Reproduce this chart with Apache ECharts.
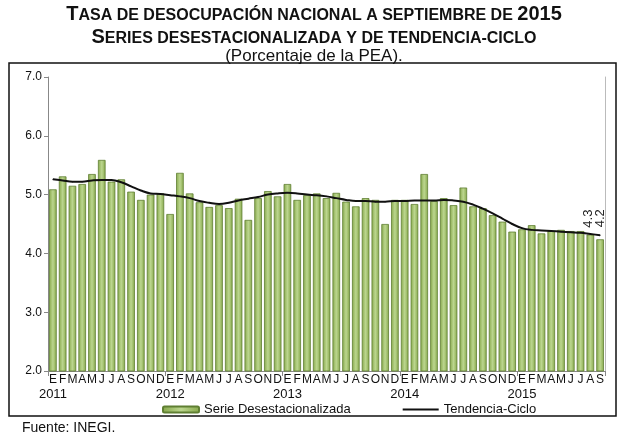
<!DOCTYPE html>
<html><head><meta charset="utf-8">
<script src="https://cdn.jsdelivr.net/npm/echarts@6/dist/echarts.min.js"></script>
<style>html,body{margin:0;padding:0;background:#fff}#c{width:628px;height:443px}</style>
</head><body><div id="c"></div>
<script>
const months = ['E','F','M','A','M','J','J','A','S','O','N','D'];
const years = ['2011','2012','2013','2014','2015'];
const serieDesest = [
  5.09, 5.31, 5.15, 5.18, 5.35, 5.59, 5.22, 5.26, 5.05, 4.91, 5.00, 5.02,
  4.67, 5.37, 5.02, 4.87, 4.79, 4.82, 4.77, 4.93, 4.57, 4.94, 5.06, 4.97,
  5.18, 4.91, 4.99, 5.02, 4.94, 5.03, 4.88, 4.80, 4.94, 4.91, 4.50, 4.91,
  4.91, 4.84, 5.35, 4.89, 4.94, 4.82, 5.12, 4.80, 4.77, 4.65, 4.54, 4.37,
  4.41, 4.48, 4.34, 4.38, 4.40, 4.38, 4.38, 4.32, 4.24
];
const tendencia = [
  5.26, 5.24, 5.22, 5.22, 5.24, 5.25, 5.25, 5.21, 5.14, 5.07, 5.02, 5.01,
  4.99, 4.97, 4.94, 4.89, 4.86, 4.84, 4.86, 4.90, 4.93, 4.96, 5.00, 5.02,
  5.03, 5.02, 5.00, 4.99, 4.97, 4.94, 4.91, 4.89, 4.89, 4.88, 4.88, 4.89,
  4.89, 4.90, 4.90, 4.90, 4.91, 4.90, 4.88, 4.83, 4.76, 4.68, 4.59, 4.50,
  4.43, 4.40, 4.39, 4.38, 4.37, 4.36, 4.35, 4.33, 4.31
];
const yTicks = [2, 3, 4, 5, 6, 7];

const cats = [];
const yearLabels = [];
for (let i = 0; i < serieDesest.length; i++) {
  cats.push(months[i % 12]);
  yearLabels.push(i % 12 === 0 ? years[i / 12] : '');
}
const last = serieDesest.length - 1;
const FONT = 'Liberation Sans, Arial, sans-serif';

const barData = serieDesest.map((v, i) => i === last ? {
  value: v,
  label: { show: true, position: 'top', rotate: 90, align: 'left', verticalAlign: 'middle',
    distance: 12, formatter: p => p.value.toFixed(1), fontSize: 13, color: '#222', fontFamily: FONT }
} : v);
const lineData = tendencia.map((v, i) => i === last ? {
  value: v,
  label: { show: true, position: 'top', rotate: 90, align: 'left', verticalAlign: 'middle',
    distance: 7, offset: [0, -12], formatter: p => p.value.toFixed(1), fontSize: 13, color: '#222', fontFamily: FONT }
} : v);

const richTitle = {
  b: { fontSize: 20, fontWeight: 'bold', color: '#111', fontFamily: FONT, verticalAlign: 'bottom' },
  s: { fontSize: 16, fontWeight: 'bold', color: '#111', fontFamily: FONT, verticalAlign: 'bottom' }
};

const chart = echarts.init(document.getElementById('c'), null, { renderer: 'canvas' });
chart.setOption({
  backgroundColor: '#fff',
  animation: false,
  textStyle: { fontFamily: FONT },
  title: [
    { left: 'center', top: -1, text: '{b|T}{s|ASA DE DESOCUPACIÓN NACIONAL A SEPTIEMBRE DE }{b|2015}',
      textStyle: { rich: richTitle } },
    { left: 'center', top: 22, text: '{b|S}{s|ERIES DESESTACIONALIZADA Y DE TENDENCIA-CICLO}',
      textStyle: { rich: richTitle } },
    { left: 'center', top: 43, text: '(Porcentaje de la PEA).',
      textStyle: { fontSize: 17, fontWeight: 'normal', color: '#111', fontFamily: FONT } }
  ],
  grid: { left: 48, right: 23, top: 77, bottom: 72, containLabel: false },
  legend: {
    left: 157, top: 398, itemWidth: 36, itemHeight: 6, itemGap: 52,
    textStyle: { fontSize: 13, color: '#111', fontFamily: FONT },
    data: [
      { name: 'Serie Desestacionalizada' },
      { name: 'Tendencia-Ciclo', icon: 'path://M0 0H36V2H0Z', itemStyle: { color: '#111' } }
    ]
  },
  xAxis: [
    { type: 'category', data: cats, position: 'bottom',
      axisLine: { show: true, lineStyle: { color: '#888' } },
      axisTick: { show: true, interval: (i) => i % 12 === 0, length: 5, lineStyle: { color: '#888' } },
      axisLabel: { interval: 0, margin: 3, fontSize: 12, color: '#111', fontFamily: FONT } },
    { type: 'category', data: yearLabels, position: 'bottom',
      axisLine: { show: false }, axisTick: { show: false },
      axisLabel: { interval: 0, margin: 17, fontSize: 13, color: '#111', fontFamily: FONT } }
  ],
  yAxis: [
    { type: 'value', min: 2, max: 7, interval: 1,
      axisLine: { show: true, lineStyle: { color: '#888' } },
      axisTick: { show: true, length: 4, lineStyle: { color: '#888' } },
      splitLine: { show: false },
      axisLabel: { formatter: v => yTicks.includes(v) ? v.toFixed(1) : '', fontSize: 12, color: '#111', margin: 6, fontFamily: FONT } },
    { type: 'value', min: 2, max: 7, interval: 1, position: 'right',
      axisLine: { show: true, lineStyle: { color: '#bbb' } },
      axisTick: { show: false }, axisLabel: { show: false }, splitLine: { show: false } }
  ],
  series: [
    { name: 'Serie Desestacionalizada', type: 'bar', data: barData, barCategoryGap: '22%',
      itemStyle: {
        color: new echarts.graphic.LinearGradient(0, 0, 1, 0, [
          { offset: 0, color: '#86a84a' }, { offset: 0.5, color: '#bcd68f' }, { offset: 1, color: '#86a84a' }
        ]),
        borderColor: '#5f7f32', borderWidth: 0.8
      } },
    { name: 'Tendencia-Ciclo', type: 'line', data: lineData, smooth: 0.4,
      symbol: 'circle', symbolSize: 1, showSymbol: true,
      lineStyle: { color: '#111', width: 2 }, itemStyle: { color: '#111' }, z: 5 }
  ],
  graphic: [
    { type: 'rect', shape: { x: 9, y: 63, width: 607, height: 353 },
      style: { fill: 'none', stroke: '#111', lineWidth: 1.5 }, z: -1 },
    { type: 'text', left: 22, top: 421,
      style: { text: 'Fuente: INEGI.', fontSize: 14, fill: '#111', fontFamily: FONT } }
  ]
});
</script></body></html>
